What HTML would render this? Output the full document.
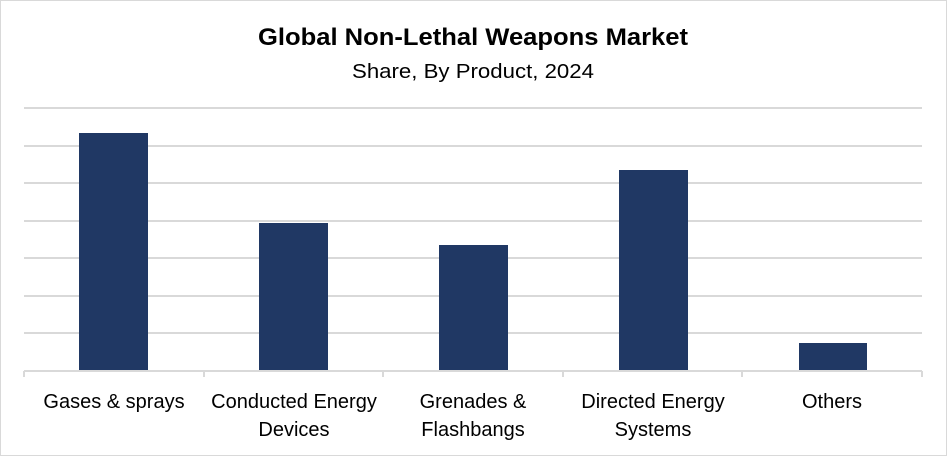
<!DOCTYPE html>
<html><head><style>
html,body{margin:0;padding:0;background:#fff;}
svg{display:block;font-family:"Liberation Sans",Arial,sans-serif;}
</style></head><body>
<svg width="947" height="456" viewBox="0 0 947 456" xmlns="http://www.w3.org/2000/svg">
<rect x="0.5" y="0.5" width="946" height="455" fill="#fff" stroke="#d9d9d9"/>
<text x="473" y="45" text-anchor="middle" font-size="24" font-weight="bold" fill="#000" textLength="430" lengthAdjust="spacingAndGlyphs">Global Non-Lethal Weapons Market</text>
<text x="473" y="78" text-anchor="middle" font-size="20" fill="#000" textLength="242" lengthAdjust="spacingAndGlyphs">Share, By Product, 2024</text>
<g stroke="#d9d9d9" stroke-width="2">
<line x1="24" y1="108" x2="922" y2="108"/>
<line x1="24" y1="146" x2="922" y2="146"/>
<line x1="24" y1="183" x2="922" y2="183"/>
<line x1="24" y1="221" x2="922" y2="221"/>
<line x1="24" y1="258" x2="922" y2="258"/>
<line x1="24" y1="296" x2="922" y2="296"/>
<line x1="24" y1="333" x2="922" y2="333"/>
<line x1="24" y1="371" x2="922" y2="371"/>
<line x1="24" y1="371" x2="24" y2="377"/>
<line x1="204" y1="371" x2="204" y2="377"/>
<line x1="383" y1="371" x2="383" y2="377"/>
<line x1="563" y1="371" x2="563" y2="377"/>
<line x1="742" y1="371" x2="742" y2="377"/>
<line x1="922" y1="371" x2="922" y2="377"/>
</g>
<g fill="#203864">
<rect x="79" y="133" width="69" height="237"/>
<rect x="259" y="223" width="69" height="147"/>
<rect x="439" y="245" width="69" height="125"/>
<rect x="619" y="170" width="69" height="200"/>
<rect x="799" y="343" width="68" height="27"/>
</g>
<g font-size="20" fill="#000" text-anchor="middle">
<text x="114" y="408">Gases &amp; sprays</text>
<text x="294" y="408">Conducted Energy</text>
<text x="294" y="436">Devices</text>
<text x="473" y="408">Grenades &amp;</text>
<text x="473" y="436">Flashbangs</text>
<text x="653" y="408">Directed Energy</text>
<text x="653" y="436">Systems</text>
<text x="832" y="408">Others</text>
</g>
</svg>
</body></html>
